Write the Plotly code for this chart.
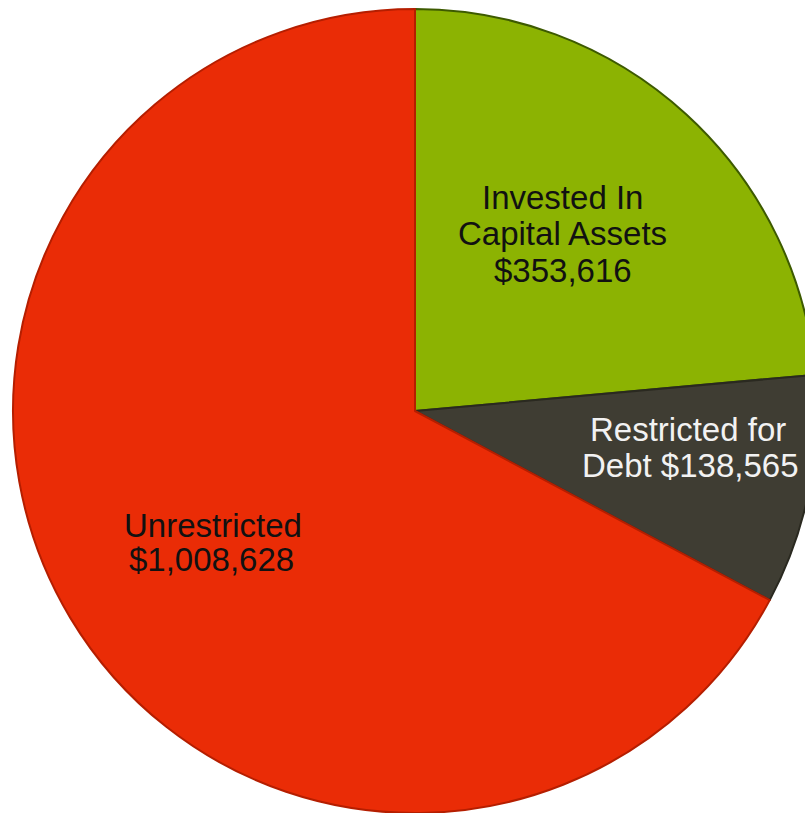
import plotly.graph_objects as go

# Net position components
categories = ["Invested In Capital Assets", "Restricted for Debt", "Unrestricted"]
values = [353616, 138565, 1008628]
slice_colors = ["#8CB302", "#3F3D33", "#EA2C06"]
outline_colors = ["#3D5A00", "#2A2920", "#B51E00"]
label_colors = ["#111111", "#F2F2F2", "#111111"]

# label lines per slice: name lines followed by the formatted amount
label_lines = [
    ["Invested In", "Capital Assets", "${:,}"],
    ["Restricted for", "Debt ${:,}"],
    ["Unrestricted", "${:,}"],
]
# centre of each label line, in pixels from the top-left of the figure
label_xy = [
    [(562, 197), (562, 233), (563, 270)],
    [(688, 429), (690, 466)],
    [(213, 525), (211, 559)],
]

W, H = 830, 820
cx, cy, r = 415, 411, 402

fig = go.Figure(
    go.Pie(
        labels=categories,
        values=values,
        sort=False,
        direction="clockwise",
        rotation=0,
        marker=dict(colors=slice_colors, line=dict(color=outline_colors, width=2)),
        textinfo="none",
        hoverinfo="label+value",
        showlegend=False,
        domain=dict(
            x=[(cx - r) / W, (cx + r) / W],
            y=[(H - cy - r) / H, (H - cy + r) / H],
        ),
    )
)

for lines, positions, color, v in zip(label_lines, label_xy, label_colors, values):
    for text, (px, py) in zip(lines, positions):
        fig.add_annotation(
            x=px / W,
            y=1 - py / H,
            xref="paper",
            yref="paper",
            xanchor="center",
            yanchor="middle",
            text=text.format(v),
            showarrow=False,
            font=dict(family="Liberation Sans, Arial, sans-serif", size=33, color=color),
        )

fig.update_layout(
    width=W,
    height=H,
    margin=dict(l=0, r=0, t=0, b=0),
    paper_bgcolor="white",
    plot_bgcolor="white",
)

fig.write_html("out.html", config={"displayModeBar": False})
